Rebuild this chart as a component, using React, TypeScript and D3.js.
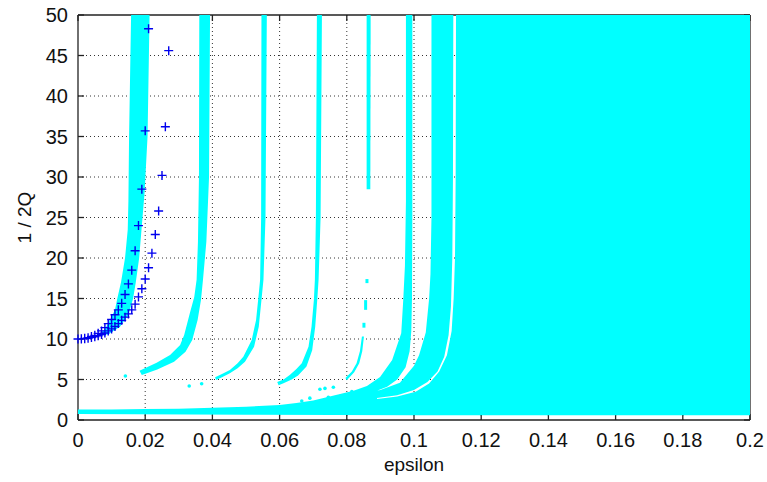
import React from 'react';
import * as d3 from 'd3';

// chart frame
const W = 767;
const H = 482;
const margin = { top: 15, right: 17, bottom: 62, left: 78 };

const xTicks = [0, 0.02, 0.04, 0.06, 0.08, 0.1, 0.12, 0.14, 0.16, 0.18, 0.2];
const yTicks = [0, 5, 10, 15, 20, 25, 30, 35, 40, 45, 50];

// instability tongues: [epsilon, 1/2Q] boundary points
const tongue1Left = [[0, 10.0], [0.003, 10.1], [0.006, 10.5], [0.008, 11.2], [0.0095, 12.3], [0.011, 13.6], [0.0117, 15], [0.0128, 17], [0.014, 20], [0.0148, 23.5], [0.015, 27], [0.0152, 35], [0.0158, 50]];
const tongue1Right = [[0.0213, 50], [0.0207, 35], [0.0198, 28], [0.019, 24], [0.0182, 20], [0.0172, 17], [0.0164, 15], [0.015, 13.0], [0.0125, 11.5], [0.009, 10.6], [0.004, 10.15], [0, 10.05]];

const tongue2Left = [[0.0183, 6.09], [0.021, 6.6], [0.0234, 7.08], [0.0274, 8.02], [0.0304, 9.26], [0.0316, 10.5], [0.0333, 13.2], [0.0346, 15.2], [0.0353, 17.3], [0.0357, 22], [0.036, 30], [0.0361, 50]];
const tongue2Right = [[0.0393, 50], [0.039, 30], [0.0382, 22], [0.0372, 17.3], [0.0366, 14.8], [0.0356, 12.35], [0.034, 9.88], [0.032, 8.44], [0.0286, 7.2], [0.0236, 6.25], [0.019, 5.56]];

const tongue3Left = [[0.0408, 5.27], [0.043, 5.7], [0.0452, 6.17], [0.0475, 7.0], [0.0492, 7.82], [0.0517, 9.88], [0.053, 12.35], [0.0537, 15.2], [0.0542, 17.3], [0.0545, 25], [0.0546, 50]];
const tongue3Right = [[0.0562, 50], [0.0558, 25], [0.0552, 17.3], [0.0546, 14.8], [0.0538, 11.5], [0.0524, 9.05], [0.0497, 7.2], [0.0475, 6.4], [0.0452, 5.76], [0.043, 5.3], [0.0411, 4.94]];

const tongue4Left = [[0.0593, 4.7], [0.0612, 5.0], [0.0631, 5.6], [0.065, 6.3], [0.0666, 7.0], [0.0686, 9.05], [0.0695, 11.5], [0.0702, 14.8], [0.0705, 17.3], [0.0708, 25], [0.0711, 50]];
const tongue4Right = [[0.0726, 50], [0.0722, 25], [0.0716, 17.3], [0.0712, 14.8], [0.0706, 11.5], [0.0697, 8.6], [0.068, 6.6], [0.0655, 5.5], [0.0636, 5.0], [0.061, 4.5], [0.0597, 4.3]];

const tongue5LowLeft = [[0.0796, 5.2], [0.0815, 6.0], [0.0829, 7.0], [0.0839, 8.5], [0.0845, 10.3]];
const tongue5LowRight = [[0.0851, 10.3], [0.0846, 8.5], [0.0837, 7.0], [0.0822, 5.9], [0.08, 4.9]];
const tongue5Top = [[0.0859, 28.5], [0.0859, 50], [0.0871, 50], [0.087, 28.5]];
// broken pieces of tongue 5: [epsilon, from, to]
const tongue5Dashes = [[0.0851, 11.4, 12.0], [0.0856, 13.6, 14.8], [0.086, 16.9, 17.4]];

// large region on the right, joined with the floor band
const floorBottom = [[0, 0.75], [0.05, 0.65], [0.1, 0.6], [0.2, 0.6], [0.2, 50]];
const region8Left = [[0.1125, 50], [0.1124, 30], [0.1122, 20], [0.1118, 15], [0.1112, 11], [0.1098, 8], [0.1075, 6], [0.1045, 4.5], [0.1005, 3.5], [0.095, 2.9], [0.089, 2.6]];
const band7Right = [[0.089, 2.72], [0.095, 3.05], [0.1, 3.7], [0.104, 4.7], [0.107, 6.0], [0.109, 7.8], [0.1103, 10.5], [0.111, 14], [0.1114, 20], [0.1116, 30], [0.1117, 50]];
const band7Left = [[0.1052, 50], [0.1052, 25], [0.1049, 18], [0.1045, 15], [0.1035, 10.8], [0.1015, 8], [0.1, 6.7], [0.0958, 4.6], [0.09, 3.7], [0.083, 3.15]];
const tongue6Right = [[0.083, 3.1], [0.088, 3.45], [0.092, 4.1], [0.095, 5.0], [0.0975, 6.5], [0.0987, 8.5], [0.0992, 11], [0.0994, 15], [0.0995, 25], [0.0995, 50]];
const tongue6Left = [[0.0976, 50], [0.0976, 27], [0.0973, 19], [0.0968, 14.8], [0.0962, 10.7], [0.0935, 7.4], [0.0899, 5.3], [0.086, 4.2], [0.082, 3.6], [0.078, 3.2], [0.074, 2.8], [0.07, 2.4]];
const floorTop = [[0.065, 2.1], [0.06, 1.85], [0.05, 1.65], [0.04, 1.5], [0.03, 1.4], [0.02, 1.35], [0.01, 1.3], [0, 1.3]];

// stray unstable points
const strayDots = [[0.0141, 5.43], [0.0331, 4.2], [0.0368, 4.48], [0.0666, 2.35], [0.069, 2.7], [0.072, 3.8], [0.0735, 3.9], [0.0745, 2.8], [0.076, 4.05], [0.078, 2.9], [0.0815, 3.5], [0.0834, 3.3]];

// '+' markers: two series
const seriesAEps = [0, 0.001, 0.002, 0.003, 0.004, 0.005, 0.006, 0.007, 0.008, 0.009, 0.01, 0.011, 0.012, 0.013, 0.014, 0.015, 0.016, 0.017, 0.018, 0.019, 0.02, 0.021];
const seriesAQ = [10.0, 10.02, 10.08, 10.15, 10.3, 10.45, 10.7, 11.0, 11.4, 11.9, 12.4, 13.0, 13.6, 14.4, 15.5, 16.8, 18.5, 20.9, 24.0, 28.5, 35.7, 48.3];
const seriesBEps = [0, 0.001, 0.002, 0.003, 0.004, 0.005, 0.006, 0.007, 0.008, 0.009, 0.01, 0.011, 0.012, 0.013, 0.014, 0.015, 0.016, 0.017, 0.018, 0.019, 0.02, 0.021, 0.022, 0.023, 0.024, 0.025, 0.026, 0.027];
const seriesBQ = [10.0, 10.01, 10.04, 10.1, 10.17, 10.27, 10.4, 10.55, 10.75, 11.0, 11.25, 11.55, 11.9, 12.3, 12.7, 13.1, 13.6, 14.3, 15.2, 16.2, 17.4, 18.8, 20.6, 22.9, 25.8, 30.2, 36.2, 45.6];

const CYAN = '#00ffff';
const FONT = 'Liberation Sans, Arial, Helvetica, sans-serif';

export default function App() {
  const x = d3.scaleLinear().domain([0, 0.2]).range([margin.left, W - margin.right]);
  const y = d3.scaleLinear().domain([0, 50]).range([H - margin.bottom, margin.top]);

  const poly = d3.line<number[]>()
    .x(d => x(d[0]))
    .y(d => y(d[1]))
    .curve(d3.curveLinearClosed);

  const tongues = [
    [...tongue1Left, ...tongue1Right],
    [...tongue2Left, ...tongue2Right],
    [...tongue3Left, ...tongue3Right],
    [...tongue4Left, ...tongue4Right],
    [...tongue5LowLeft, ...tongue5LowRight],
    tongue5Top,
  ];
  const outer = [...floorBottom, ...region8Left, ...band7Right, ...band7Left, ...tongue6Right, ...tongue6Left, ...floorTop];

  const x0 = x(0), x1 = x(0.2), y0 = y(0), y1 = y(50);
  const plus = (px: number, py: number) => `M${px - 4.5},${py}H${px + 4.5}M${px},${py - 4.5}V${py + 4.5}`;
  const plusPath = [
    ...seriesAEps.map((e, i) => plus(x(e), y(seriesAQ[i]))),
    ...seriesBEps.map((e, i) => plus(x(e), y(seriesBQ[i]))),
  ].join('');

  return (
    <svg width={W} height={H} style={{ position: 'absolute', left: 0, top: 0, background: '#fff' }}>
      {/* grid */}
      <g stroke="#333" strokeWidth={1} strokeDasharray="1,3">
        {xTicks.slice(1, -1).map(t => (
          <line key={'gx' + t} x1={x(t)} x2={x(t)} y1={y0} y2={y1} />
        ))}
        {yTicks.slice(1, -1).map(t => (
          <line key={'gy' + t} x1={x0} x2={x1} y1={y(t)} y2={y(t)} />
        ))}
      </g>

      {/* frame and ticks (covered by the regions where they overlap) */}
      <g stroke="#222" strokeWidth={1.3} fill="none">
        <line x1={x0} x2={x1} y1={y0} y2={y0} />
        <line x1={x0} x2={x1} y1={y1} y2={y1} />
        <line x1={x0} x2={x0} y1={y0} y2={y1} />
        <line x1={x1} x2={x1} y1={y0} y2={y1} />
        {xTicks.map(t => (
          <g key={'tx' + t}>
            <line x1={x(t)} x2={x(t)} y1={y0} y2={y0 - 6} />
            <line x1={x(t)} x2={x(t)} y1={y1} y2={y1 + 6} />
          </g>
        ))}
        {yTicks.map(t => (
          <g key={'ty' + t}>
            <line x1={x0} x2={x0 + 6} y1={y(t)} y2={y(t)} />
            <line x1={x1} x2={x1 - 6} y1={y(t)} y2={y(t)} />
          </g>
        ))}
      </g>

      {/* unstable regions */}
      <g fill={CYAN} stroke="none">
        <path d={poly(outer) || ''} />
        {tongues.map((t, i) => <path key={i} d={poly(t) || ''} />)}
      </g>
      <g stroke={CYAN} strokeWidth={3}>
        {tongue5Dashes.map((d, i) => (
          <line key={i} x1={x(d[0])} x2={x(d[0])} y1={y(d[1])} y2={y(d[2])} />
        ))}
      </g>
      <g fill={CYAN}>
        {strayDots.map((d, i) => <circle key={i} cx={x(d[0])} cy={y(d[1])} r={1.8} />)}
      </g>

      {/* markers */}
      <path d={plusPath} stroke="#0000ee" strokeWidth={1.4} fill="none" />

      {/* labels */}
      <g fontFamily={FONT} fontSize={20} fill="#111">
        {xTicks.map(t => (
          <text key={'lx' + t} x={x(t)} y={y0 + 27} textAnchor="middle">{String(t)}</text>
        ))}
        {yTicks.map(t => (
          <text key={'ly' + t} x={x0 - 10} y={y(t) + 7} textAnchor="end">{String(t)}</text>
        ))}
        <text x={(x0 + x1) / 2} y={H - 11} textAnchor="middle" fontSize={19}>epsilon</text>
        <text transform={`translate(31,${(y0 + y1) / 2}) rotate(-90)`} textAnchor="middle" fontSize={19}>1 / 2Q</text>
      </g>
    </svg>
  );
}
